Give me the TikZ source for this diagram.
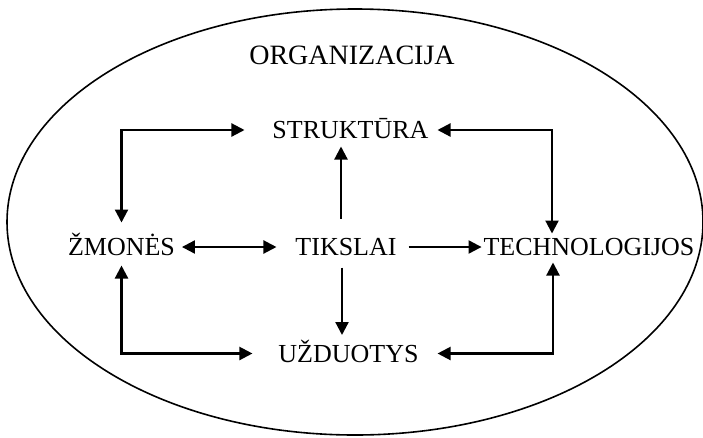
\documentclass[tikz,border=0pt]{standalone}
\usepackage{fontspec}
\setmainfont{Liberation Serif}
\usetikzlibrary{arrows.meta}
\begin{document}
\begin{tikzpicture}[x=1pt,y=-1pt,
  lbl/.style={anchor=base, inner sep=0pt, outer sep=0pt,
    text height=17pt, text depth=0pt, font=\fontsize{26}{30}\selectfont},
  title/.style={anchor=base, inner sep=0pt, font=\fontsize{28}{32}\selectfont},
  tip/.tip={Triangle[length=13pt,width=13pt]},
  link/.style={line width=2.2pt, -tip},
  both/.style={line width=2.2pt, tip-tip}]
\useasboundingbox (0,0) rectangle (703,437);

% outer boundary of the organisation
\draw[line width=1.6pt] (355,222) ellipse [x radius=348pt, y radius=213pt];

% labels
\node[title] (org) at (352,64) {ORGANIZACIJA};
\node[lbl] (st) at (350.5,138.5) {STRUKTŪRA};
\node[lbl] (zm) at (121.5,255.5) {ŽMONĖS};
\node[lbl] (ti) at (346,255.5) {TIKSLAI};
\node[lbl] (te) at (589,255.5) {TECHNOLOGIJOS};
\node[lbl] (ud) at (348.5,362) {UŽDUOTYS};

% connectors
\draw[both] ([yshift=16pt]zm.north) |- ([xshift=-28pt]st.west);
\draw[link] ([xshift=-5pt,yshift=20pt]ti.north) -- ([xshift=-9.5pt,yshift=-8pt]st.south);
\draw[both] ([xshift=9pt]st.east) -| ([xshift=-37pt,yshift=5pt]te.north);
\draw[both] ([xshift=7pt]zm.east) -- ([xshift=-19pt]ti.west);
\draw[link] ([xshift=12pt]ti.east) -- ([xshift=-2pt]te.west);
\draw[link] ([xshift=-4pt,yshift=-12pt]ti.south) -- ([xshift=-6.5pt,yshift=10pt]ud.north);
\draw[both] ([yshift=-10pt]zm.south) |- ([xshift=-26pt]ud.west);
\draw[both] ([xshift=19pt]ud.east) -| ([xshift=-36pt,yshift=-7pt]te.south);
\end{tikzpicture}
\end{document}
